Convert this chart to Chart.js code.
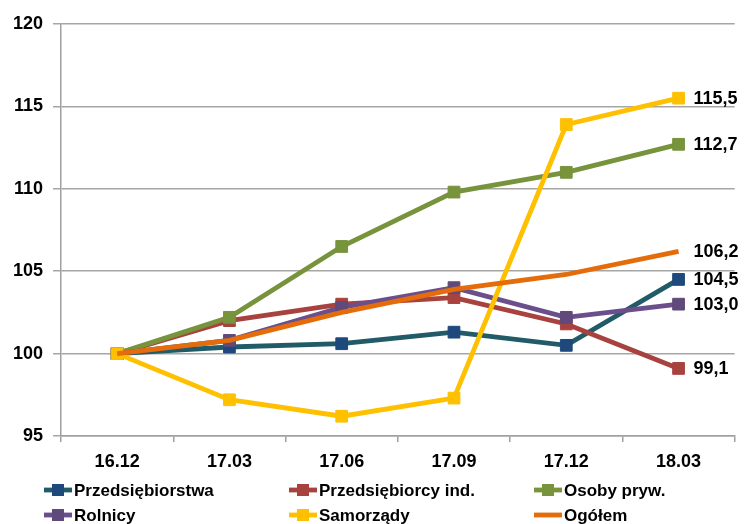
<!DOCTYPE html>
<html>
<head>
<meta charset="utf-8">
<script src="https://cdn.jsdelivr.net/npm/chart.js@4.4.1/dist/chart.umd.min.js"></script>
<style>
  html, body { margin: 0; padding: 0; background: #fff; }
  #wrap { width: 744px; height: 524px; }
</style>
</head>
<body>
<div id="wrap"><canvas id="line-chart" width="744" height="524"></canvas></div>
<script>
// data
var labels = ['16.12', '17.03', '17.06', '17.09', '17.12', '18.03'];
var przedsiebiorstwa = [100, 100.4, 100.6, 101.3, 100.5, 104.5];
var przedsiebiorcyInd = [100, 102.0, 103.0, 103.4, 101.8, 99.1];
var osobyPryw = [100, 102.2, 106.5, 109.8, 111.0, 112.7];
var rolnicy = [100, 100.8, 102.8, 104.0, 102.2, 103.0];
var samorzady = [100, 97.2, 96.2, 97.3, 113.9, 115.5];
var ogolem = [100, 100.8, 102.5, 103.9, 104.8, 106.2];
var endLabels = ['104,5', '99,1', '112,7', '103,0', '115,5', '106,2'];

var FONT = '"Liberation Sans", Arial, sans-serif';

// makes one line series
function series(name, values, line, marker, order) {
    return {
        label: name,
        data: values,
        borderColor: line,
        backgroundColor: marker,
        pointBackgroundColor: marker,
        pointBorderColor: marker,
        pointStyle: 'rect',
        pointRadius: marker ? 8.3 : 0,
        pointBorderWidth: 1,
        borderWidth: 4.8,
        tension: 0,
        fill: false,
        order: order
    };
}

var datasets = [
    series('Przedsiębiorstwa', przedsiebiorstwa, '#215B68', '#1F497D', 5),
    series('Przedsiębiorcy ind.', przedsiebiorcyInd, '#A8423F', '#A8423F', 4),
    series('Osoby pryw.', osobyPryw, '#77933C', '#77933C', 3),
    series('Rolnicy', rolnicy, '#6A4F8C', '#604A7B', 2),
    series('Samorządy', samorzady, '#FFC000', '#FFC000', 1),
    series('Ogółem', ogolem, '#E46C0A', null, 0)
];

// value labels right of the last point
var endLabelPlugin = {
    id: 'endLabels',
    afterDatasetsDraw: function(chart) {
        var ctx = chart.ctx;
        ctx.save();
        ctx.font = 'bold 18px ' + FONT;
        ctx.fillStyle = '#000';
        ctx.textAlign = 'left';
        ctx.textBaseline = 'middle';
        chart.data.datasets.forEach(function(ds, i) {
            var pts = chart.getDatasetMeta(i).data;
            var p = pts[pts.length - 1];
            ctx.fillText(endLabels[i], p.x + 15, p.y + 1);
        });
        ctx.restore();
    }
};

// legend in three columns, two rows
var gridLegendPlugin = {
    id: 'gridLegend',
    afterDraw: function(chart) {
        var ctx = chart.ctx;
        var cols = [44, 289, 534];
        var rows = [490, 515];
        ctx.save();
        ctx.font = 'bold 17px ' + FONT;
        ctx.textBaseline = 'middle';
        ctx.textAlign = 'left';
        chart.data.datasets.forEach(function(ds, i) {
            var x = cols[i % 3];
            var y = rows[Math.floor(i / 3)];
            ctx.strokeStyle = ds.borderColor;
            ctx.lineWidth = 4.8;
            ctx.beginPath();
            ctx.moveTo(x, y);
            ctx.lineTo(x + 28, y);
            ctx.stroke();
            if (ds.pointRadius > 0) {
                ctx.fillStyle = ds.pointBackgroundColor;
                ctx.fillRect(x + 8, y - 6, 12, 12);
            }
            ctx.fillStyle = '#000';
            ctx.fillText(ds.label, x + 30, y + 1);
        });
        ctx.restore();
    }
};

var ctx = document.getElementById('line-chart').getContext('2d');

var myChart = new Chart(ctx, {
    type: 'line',
    data: {
        labels: labels,
        datasets: datasets
    },
    options: {
        responsive: false,
        animation: false,
        layout: { padding: { top: 24, right: 7, bottom: 48, left: 0 } },
        plugins: {
            legend: { display: false },
            tooltip: { enabled: false }
        },
        scales: {
            x: {
                offset: true,
                grid: {
                    offset: true,
                    drawOnChartArea: false,
                    color: '#A0A0A0',
                    lineWidth: 1.5,
                    tickLength: 6
                },
                border: { color: '#A0A0A0', width: 1.5 },
                ticks: {
                    color: '#000',
                    font: { family: FONT, size: 18, weight: 'bold' },
                    padding: 9,
                    maxRotation: 0
                },
                afterFit: function(scale) { scale.height = 40; }
            },
            y: {
                min: 95,
                max: 120,
                ticks: {
                    stepSize: 5,
                    color: '#000',
                    font: { family: FONT, size: 18, weight: 'bold' },
                    padding: 10
                },
                grid: {
                    color: '#A6A6A6',
                    lineWidth: 1.5,
                    tickLength: 8
                },
                border: { color: '#A0A0A0', width: 1.5 },
                afterFit: function(scale) { scale.width = 61; }
            }
        }
    },
    plugins: [endLabelPlugin, gridLegendPlugin]
});
</script>
</body>
</html>
